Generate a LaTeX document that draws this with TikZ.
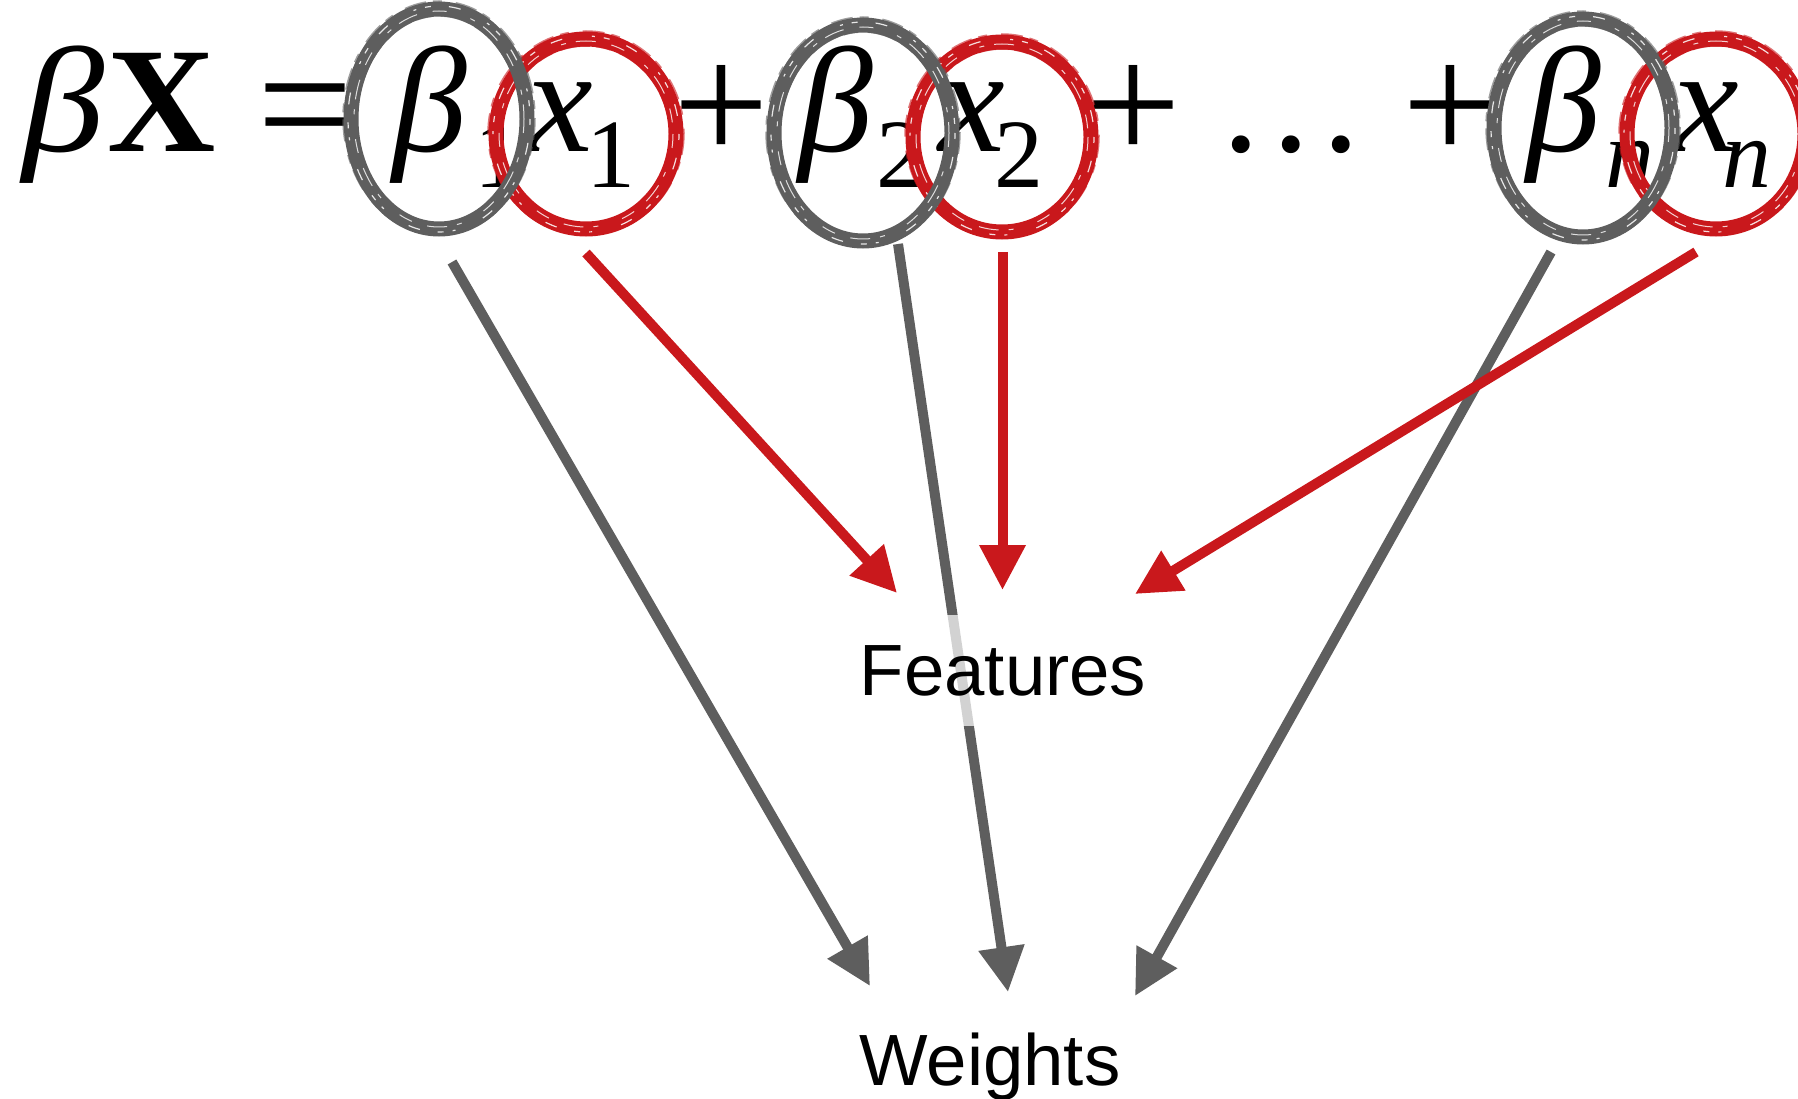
\documentclass[tikz,border=0pt]{standalone}
\usepackage{fontspec}
\setmainfont{Liberation Serif}
\newfontfamily\labelfont{Liberation Sans}
\usetikzlibrary{arrows.meta}

\definecolor{wgray}{HTML}{5E5E5E}
\definecolor{fred}{HTML}{C9181C}

% brush-like ring: centre, x radius, y radius, colour
\newcommand\brushring[4]{%
  \begin{scope}[shift={#1}]
    \pgfmathsetmacro\rxo{#2+8}\pgfmathsetmacro\ryo{#3+7}%
    \pgfmathsetmacro\rxi{#2-6}\pgfmathsetmacro\ryi{#3-5}%
    \pgfmathsetmacro\rxa{#2+3}\pgfmathsetmacro\rya{#3+3}%
    \pgfmathsetmacro\rxb{#2-3}\pgfmathsetmacro\ryb{#3-2}%
    \draw[#4, line width=15pt] (0,0) ellipse [x radius=#2, y radius=#3];
    \draw[#4, line width=5pt] (0,3) ellipse [x radius=#2, y radius=#3];
    \draw[#4, line width=1.5pt, opacity=.6, dash pattern=on 22pt off 7pt on 9pt off 14pt]
      (0,-1) ellipse [x radius=\rxo, y radius=\ryo];
    \draw[#4, line width=1.5pt, opacity=.6, dash pattern=on 15pt off 9pt on 30pt off 6pt]
      (0,2) ellipse [x radius=\rxi, y radius=\ryi];
    \draw[white, line width=1.2pt, opacity=.85,
      dash pattern=on 6pt off 18pt on 12pt off 30pt on 3pt off 9pt]
      (0,0) ellipse [x radius=\rxa, y radius=\rya];
    \draw[white, line width=1pt, opacity=.8,
      dash pattern=on 14pt off 25pt on 5pt off 10pt on 20pt off 16pt]
      (0,0) ellipse [x radius=\rxb, y radius=\ryb];
  \end{scope}}

\begin{document}
\begin{tikzpicture}[x=1pt, y=-1pt,
  eq/.style={inner sep=0pt, anchor=base west, font=\fontsize{150}{150}\selectfont},
  sub/.style={inner sep=0pt, anchor=base west, font=\fontsize{98}{98}\selectfont},
  op/.style={inner sep=0pt, anchor=base west, font=\fontsize{170}{170}\selectfont},
  label/.style={font=\labelfont\fontsize{72.6}{72.6}\selectfont, anchor=base,
    fill=white, fill opacity=.72, text opacity=1, inner xsep=20pt, inner ysep=30pt},
  weight/.style={wgray, line width=10pt, -{Triangle[length=45pt, width=44pt]}},
  feature/.style={fred, line width=10pt, -{Triangle[length=45pt, width=44pt]}},
]
\useasboundingbox (0,0) rectangle (1798,1099);

% the equation
\node[eq]  (lhsb) at (22,152)  {\itshape\scalebox{1.1}[1]{β}};
\node[eq]  (lhsX) at (107,152) {\bfseries X};
\node[op]  (eqsign) at (257,162) {=};
\node[eq]  (b1)  at (392,152)  {\itshape β};
\node[sub] (b1s) at (474,188)  {1};
\node[eq]  (x1)  at (526,152)  {\itshape x};
\node[sub] (x1s) at (586,188)  {1};
\node[op]  (p1)  at (673,162)  {+};
\node[eq]  (b2)  at (798,152)  {\itshape β};
\node[sub] (b2s) at (876,188)  {2};
\node[eq]  (x2)  at (938,152)  {\itshape x};
\node[sub] (x2s) at (994,188)  {2};
\node[op]  (p2)  at (1085,162) {+};
\node[eq]  (dots) at (1222,152) {.\kern12.5pt.\kern12.5pt.};
\node[op]  (p3)  at (1402,162) {+};
\node[eq]  (bn)  at (1526,152) {\itshape β};
\node[sub] (bns) at (1605,188) {\itshape n};
\node[eq]  (xn)  at (1672,152) {\itshape x};
\node[sub] (xns) at (1722,188) {\itshape n};

% circled terms: features in red, weights in gray on top
\brushring{(586,134)}{90}{95}{fred}
\brushring{(1002,137)}{89}{95}{fred}
\brushring{(1716,134)}{89}{95}{fred}
\brushring{(439,119)}{88}{110}{wgray}
\brushring{(863,133)}{89}{108}{wgray}
\brushring{(1583,128)}{89}{109}{wgray}

% connector ends
\coordinate (g1s) at (452,262);
\coordinate (g2s) at (898,244);
\coordinate (gns) at (1551,252);
\coordinate (r1s) at (586,253);
\coordinate (r2s) at (1002.5,252);
\coordinate (rns) at (1696,252);
\coordinate (g1t) at (870,986);
\coordinate (g2t) at (1008,992);
\coordinate (gnt) at (1135,996);
\coordinate (r1t) at (897,593);
\coordinate (r2t) at (1002.5,590);
\coordinate (rnt) at (1135,594);

\draw[weight] (g1s) -- (g1t);
\draw[weight] (g2s) -- (g2t);
\draw[weight] (gns) -- (gnt);
\draw[feature] (r1s) -- (r1t);
\draw[feature] (r2s) -- (r2t);
\draw[feature] (rns) -- (rnt);

% labels
\node[label] (features) at (1003,695) {Features};
\node[label] (weights)  at (990,1085) {Weights};
\end{tikzpicture}
\end{document}
